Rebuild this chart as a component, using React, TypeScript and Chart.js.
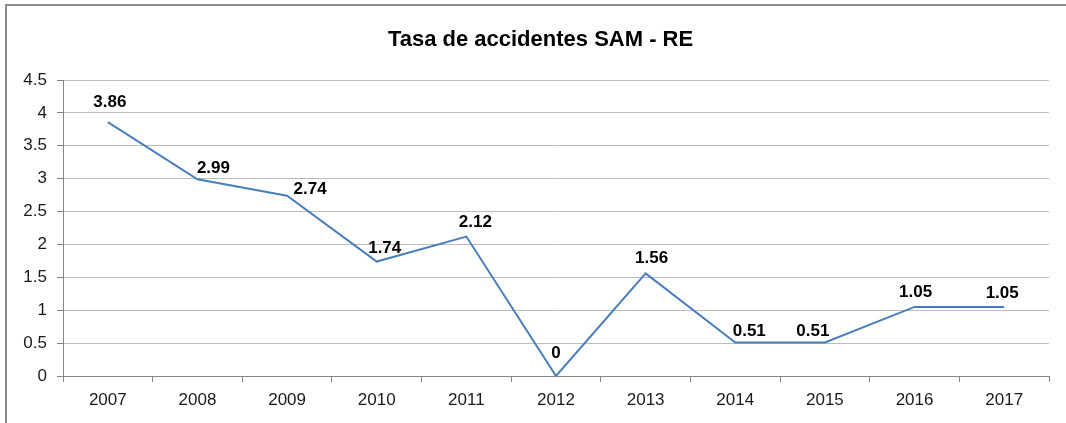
import React, { useEffect, useRef } from "react";
import { Chart, registerables } from "chart.js";

Chart.register(...registerables);

const chartTitle = "Tasa de accidentes SAM - RE";
const years = ["2007", "2008", "2009", "2010", "2011", "2012", "2013", "2014", "2015", "2016", "2017"];
const rates = [3.86, 2.99, 2.74, 1.74, 2.12, 0, 1.56, 0.51, 0.51, 1.05, 1.05];
const yTicks = [0, 0.5, 1, 1.5, 2, 2.5, 3, 3.5, 4, 4.5];
// label nudges (dx, dy) relative to each point, as placed in the original
const labelDx = [2, 16, 23, 8, 9, 0, 6, 14, -12, 1, -2];
const labelDy = [-20, -11, -6, -13, -14, -23, -15, -11, -11, -15, -14];

const FONT = "'Liberation Sans', 'DejaVu Sans', sans-serif";

const centeredTitle = {
  id: "centeredTitle",
  afterDraw(chart: any) {
    const ctx = chart.ctx;
    ctx.save();
    ctx.font = `bold 22px ${FONT}`;
    ctx.fillStyle = "#000000";
    ctx.textAlign = "center";
    ctx.textBaseline = "middle";
    ctx.fillText(chartTitle, 540.5, 40);
    ctx.restore();
  },
};

const dataLabels = {
  id: "dataLabels",
  afterDatasetsDraw(chart: any) {
    const ctx = chart.ctx;
    const meta = chart.getDatasetMeta(0);
    const ds = chart.data.datasets[0];
    ctx.save();
    ctx.font = `bold 17px ${FONT}`;
    ctx.fillStyle = "#000000";
    ctx.textAlign = "center";
    ctx.textBaseline = "middle";
    meta.data.forEach((pt: any, i: number) => {
      const v = ds.data[i];
      ctx.fillText(String(v), pt.x + labelDx[i], pt.y + labelDy[i]);
    });
    ctx.restore();
  },
};

export default function App() {
  const ref = useRef<HTMLCanvasElement | null>(null);
  useEffect(() => {
    if (!ref.current) return;
    const chart = new Chart(ref.current, {
      type: "line",
      data: {
        labels: years,
        datasets: [
          {
            data: rates,
            borderColor: "#4a7ebb",
            borderWidth: 2,
            pointRadius: 0,
            tension: 0,
            fill: false,
          },
        ],
      },
      options: {
        animation: false,
        responsive: false,
        maintainAspectRatio: false,
        layout: { padding: { top: 80, right: 17, bottom: 0, left: 0 } },
        plugins: {
          legend: { display: false },
          tooltip: { enabled: false },
          title: { display: false },
        },
        scales: {
          x: {
            type: "category",
            offset: true,
            grid: {
              offset: true,
              drawOnChartArea: false,
              drawTicks: true,
              tickLength: 6,
              color: "#868686",
            },
            border: { display: true, color: "#868686", width: 1 },
            ticks: {
              color: "#1a1a1a",
              font: { family: FONT, size: 17 },
              padding: 8,
              maxRotation: 0,
            },
            afterFit(scale: any) {
              scale.height = 47;
            },
          },
          y: {
            min: 0,
            max: 4.5,
            afterBuildTicks(scale: any) {
              scale.ticks = yTicks.map((v) => ({ value: v }));
            },
            grid: {
              color: "#bcbcbc",
              lineWidth: 1,
              drawTicks: true,
              tickLength: 6,
              tickColor: "#868686",
            },
            border: { display: true, color: "#868686", width: 1 },
            ticks: {
              color: "#1a1a1a",
              font: { family: FONT, size: 17 },
              padding: 10,
              callback: (v: any) => String(v),
            },
            afterFit(scale: any) {
              scale.width = 63;
            },
          },
        },
      },
      plugins: [dataLabels, centeredTitle],
    });
    return () => chart.destroy();
  }, []);

  return (
    <div
      style={{
        position: "absolute",
        left: 0,
        top: 0,
        width: 1066,
        height: 423,
        background: "#ffffff",
        overflow: "hidden",
      }}
    >
      <div
        style={{
          position: "absolute",
          left: 5,
          top: 4,
          width: 1200,
          height: 600,
          borderTop: "2px solid #8c8c8c",
          borderLeft: "2px solid #8c8c8c",
          borderRight: "none",
          borderBottom: "none",
          boxSizing: "border-box",
        }}
      />
      <canvas
        ref={ref}
        width={1066}
        height={423}
        style={{ position: "absolute", left: 0, top: 0, display: "block" }}
      />
    </div>
  );
}
